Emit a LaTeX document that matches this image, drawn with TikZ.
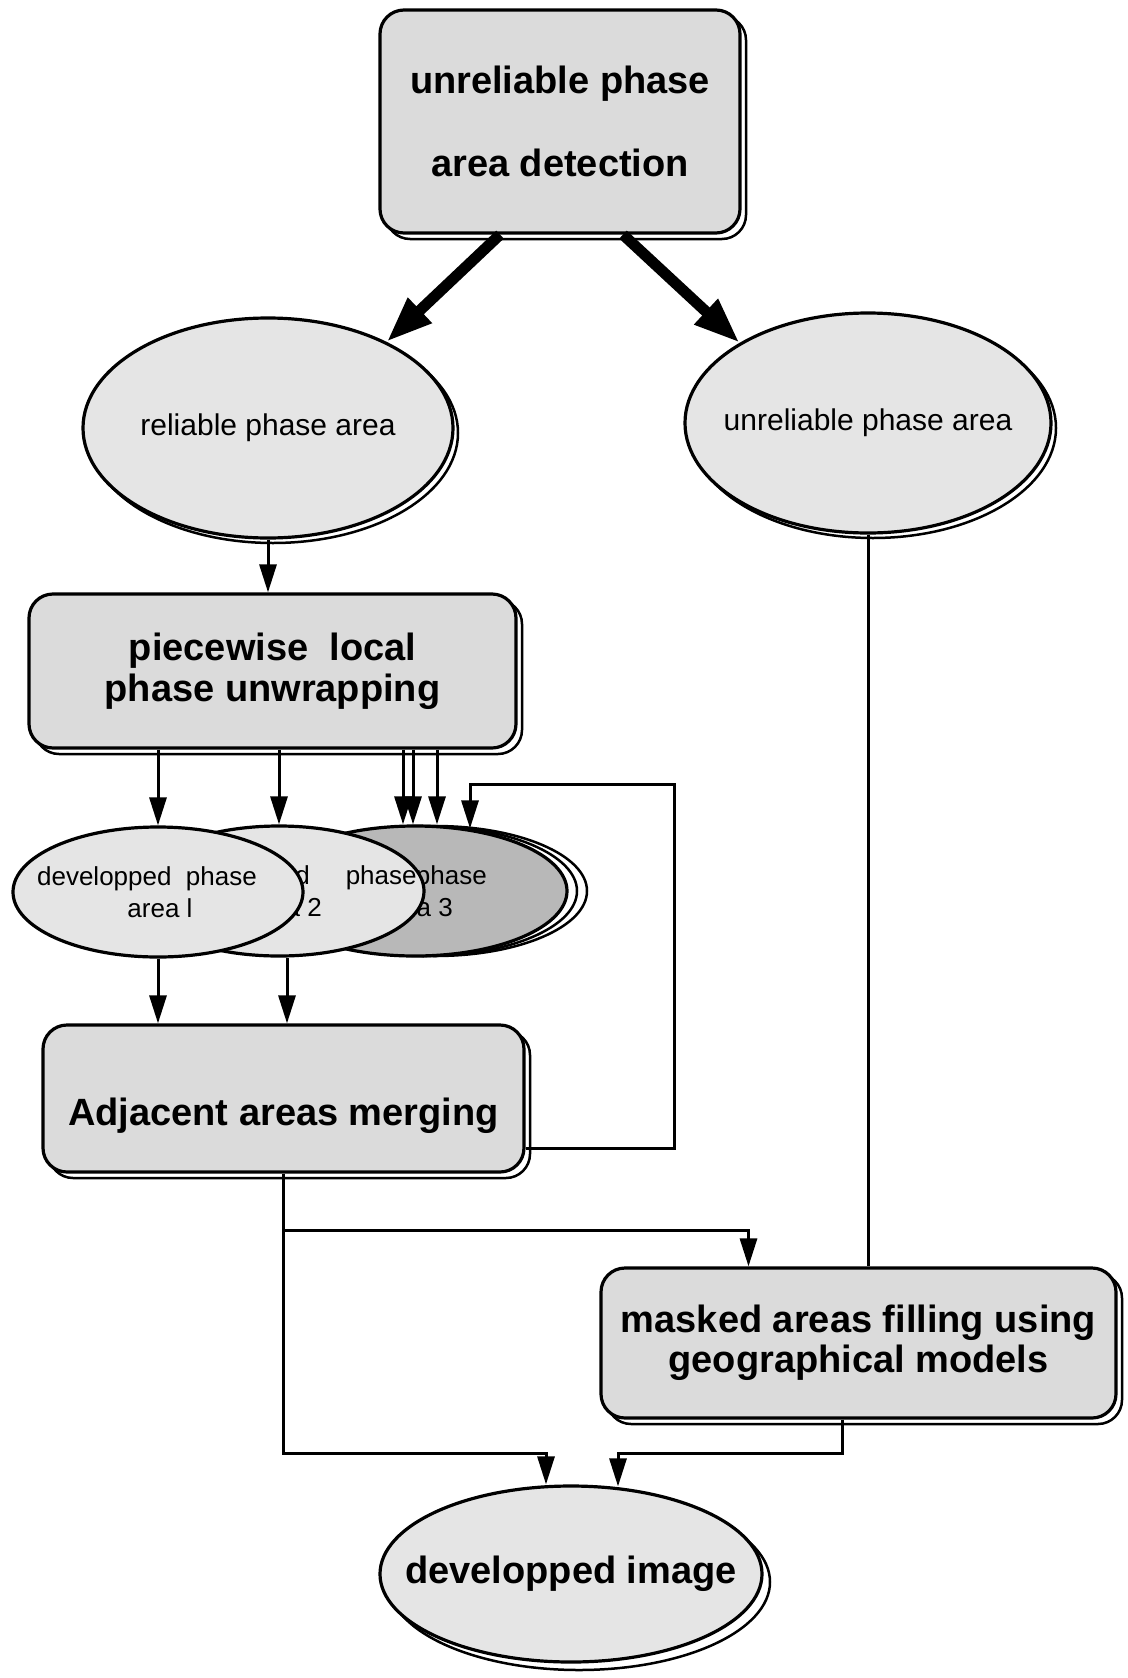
\documentclass[tikz,border=0pt]{standalone}
\usepackage{fontspec}
\setmainfont{Liberation Sans}
\usetikzlibrary{shapes.geometric,arrows.meta,shadows}
\definecolor{stip}{gray}{0.86}
\definecolor{stipl}{gray}{0.90}
\definecolor{stipd}{gray}{0.72}
\newcommand\offtext[2]{\makebox[0pt]{\hspace*{#1}#2}}
\begin{document}
\begin{tikzpicture}[x=1pt, y=-1pt,
   every node/.style={font=\bfseries\fontsize{38}{41}\selectfont},
   boxshadow/.style={copy shadow={shadow xshift=#1, shadow yshift=-#1, fill=white, draw=black, line width=2.5pt}},
   boxshadow/.default=6pt,
   procbox/.style={draw, line width=3.2pt, fill=stip, rounded corners=24pt, align=center, inner sep=0pt, boxshadow},
   areaell/.style={ellipse, draw, line width=3.2pt, fill=stipl, inner sep=0pt, font=\fontsize{30}{36}\selectfont, boxshadow=#1},
   areaell/.default=5pt,
   phaseell/.style={ellipse, draw, line width=3.2pt, fill=stipl, inner sep=0pt, minimum height=130pt, align=center, font=\fontsize{26}{32}\selectfont},
   arr/.style={-{Triangle[length=28pt,width=17pt]}, line width=3pt},
   bigarr/.style={-{Triangle[length=46pt,width=32pt]}, line width=11pt}]
\useasboundingbox (0,0) rectangle (1127,1678);

\node[procbox, minimum width=360pt, minimum height=223pt, font=\bfseries\fontsize{38}{83}\selectfont] (det) at (560,121.5) {unreliable phase\\area detection};
\node[areaell, minimum width=370pt, minimum height=220pt] (rel) at (268,428) {\offtext{0pt}{reliable phase area}};
\node[areaell, minimum width=366pt, minimum height=220pt] (unrel) at (868,423) {\offtext{0pt}{unreliable phase area}};
\node[procbox, minimum width=487pt, minimum height=154pt] (piece) at (272.5,671) {piecewise\ \ local\\phase unwrapping};

\node[phaseell, fill=stipd, minimum width=304pt,
   copy shadow={shadow xshift=20pt, shadow yshift=0pt, fill=white, draw=black, line width=2.5pt},
   copy shadow={shadow xshift=10pt, shadow yshift=0pt, fill=white, draw=black, line width=2.5pt}]
   (area3) at (415,891) {\offtext{-76pt}{developped\ \ phase}\\\offtext{2pt}{area 3}};
\node[phaseell, minimum width=290pt] (area2) at (279,891) {\offtext{34pt}{developped\hspace{36pt}phase}\\\offtext{12pt}{area 2}};
\node[phaseell, minimum width=290pt] (area1) at (158,892) {\offtext{-22pt}{developped\ \ phase}\\\offtext{4pt}{area l}};

\node[procbox, minimum width=481pt, minimum height=147pt, text height=61pt, text depth=8pt] (merge) at (283.5,1098.5) {Adjacent areas merging};
\node[procbox, minimum width=515pt, minimum height=150pt, font=\bfseries\fontsize{38}{40}\selectfont] (masked) at (858.5,1343) {masked areas filling using\\geographical models};
\node[areaell=8pt, minimum width=382pt, minimum height=176pt, font=\bfseries\fontsize{38}{41}\selectfont] (img) at (571,1574) {\offtext{0pt}{developped image}};

\draw[bigarr] ([xshift=-60pt]det.south) -- (rel.36);
\draw[bigarr] ([xshift=63pt]det.south) -- (unrel.148);
\draw[arr] (rel.south) -- (rel.south |- piece.north);
\foreach \n in {area1,area2}
  \draw[arr] (piece.south -| \n.north) -- (\n.north);
\foreach \dx/\nm in {-12/top1,-2/top2,22/top3} {
  \path (area3.north) ++(\dx,0) coordinate (\nm);
  \draw[arr] (piece.south -| \nm) -- (\nm);
}
\draw[arr] (area1.south) -- (area1.south |- merge.north);
\draw[arr] ([xshift=8pt]area2.south) -- ([xshift=8pt]area2.south |- merge.north);

\path (area3.north) ++(55,4) coordinate (top4);
\coordinate (back) at (674,784);
\draw[arr] ([yshift=-50pt]merge.east) -| (back) -| (top4);

\path (merge.south) ++(0,57) coordinate (j1);
\path (j1) ++(0,223) coordinate (j2);
\path (masked.north) ++(-110,0) coordinate (m1);
\path (img.north) ++(-25,0) coordinate (i1);
\path (img.north) ++(47,2) coordinate (i2);
\draw[arr] (merge.south) -- (j1) -| (m1);
\draw[arr] (j1) -- (j2) -| (i1);
\draw[arr] ([xshift=-16pt]masked.south) |- (j2 -| i2) -- (i2);
\draw[line width=3pt] (unrel.south) -- (unrel.south |- masked.north);
\end{tikzpicture}
\end{document}
